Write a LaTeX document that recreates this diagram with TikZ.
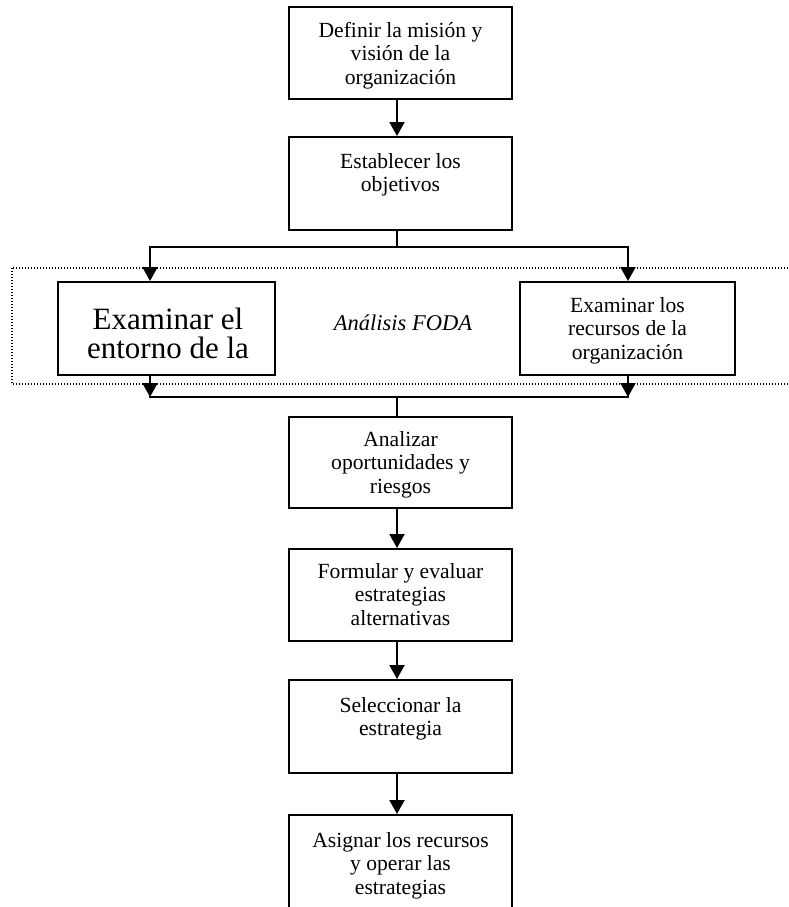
\documentclass[tikz,border=0pt]{standalone}
\usepackage{fontspec}
\setmainfont{Liberation Serif}
\usetikzlibrary{arrows.meta}
\begin{document}
\begin{tikzpicture}[x=1pt,y=-1pt,
  box/.style={draw, line width=2pt, minimum width=223pt, inner sep=0pt},
  txt/.style={anchor=north, align=center, inner sep=0pt, font=\fontsize{21.6}{23.5}\selectfont},
  conn/.style={line width=2pt, line cap=rect},
  arr/.style={line width=2pt, -{Triangle[length=14pt,width=15pt]}},
  dots/.style={line width=1.4pt, dash pattern=on 1.4pt off 1.6pt},
]
\useasboundingbox (0,0) rectangle (788,907);
\clip (0,0) rectangle (788,907);
% dotted SWOT frame
\draw[dots] (12,268) rectangle (800,384);
% boxes
\node[box, minimum height=92pt] (b1) at (400.5,53) {};
\node[box, minimum height=93pt] (b2) at (400.5,183.5) {};
\node[box, minimum width=217pt, minimum height=93pt] (bl) at (166.5,328.5) {};
\node[box, minimum width=215pt, minimum height=93pt] (br) at (627.5,328.5) {};
\node[box, minimum height=91pt] (b3) at (400.5,462.5) {};
\node[box, minimum height=92pt] (b4) at (400.5,595) {};
\node[box, minimum height=93pt] (b5) at (400.5,726.5) {};
\node[box, minimum height=100pt] (b6) at (400.5,865) {};
% texts
\node[txt] (t1) at (400.5,21) {\rule{0pt}{16pt}Definir la misión y\\visión de la\\organización};
\node[txt] (t2) at (400.5,152) {\rule{0pt}{16pt}Establecer los\\objetivos};
\node[txt, font=\fontsize{31}{29}\selectfont] (tl) at (168,307) {\rule{0pt}{22pt}Examinar el\\entorno de la};
\node[txt] (tr) at (627.5,296) {\rule{0pt}{16pt}Examinar los\\recursos de la\\organización};
\node[anchor=base, inner sep=0pt, font=\itshape\fontsize{22.5}{24}\selectfont] (foda) at (403,330) {Análisis FODA};
\node[txt] (t3) at (400.5,430) {\rule{0pt}{16pt}Analizar\\oportunidades y\\riesgos};
\node[txt] (t4) at (400.5,562) {\rule{0pt}{16pt}Formular y evaluar\\estrategias\\alternativas};
\node[txt] (t5) at (400.5,696) {\rule{0pt}{16pt}Seleccionar la\\estrategia};
\node[txt] (t6) at (400.5,831) {\rule{0pt}{16pt}Asignar los recursos\\y operar las\\estrategias};
% connector coordinates
\coordinate (sp) at (397,0);
\coordinate (jt) at (397,247);
\coordinate (jl) at (150,247);
\coordinate (jr) at (628,247);
\coordinate (kt) at (397,397);
\coordinate (kl) at (150,397);
\coordinate (kr) at (628,397);
% connectors
\draw[arr] (b1.south -| sp) -- (b2.north -| sp);
\draw[conn] (b2.south -| sp) -- (jt);
\draw[conn] (jl) -- (jr);
\draw[arr] (jl) -- (bl.north -| jl);
\draw[arr] (jr) -- (br.north -| jr);
\draw[arr] (bl.south -| kl) -- (kl);
\draw[arr] (br.south -| kr) -- (kr);
\draw[conn] (kl) -- (kr);
\draw[conn] (kt) -- (b3.north -| sp);
\draw[arr] (b3.south -| sp) -- (b4.north -| sp);
\draw[arr] (b4.south -| sp) -- (b5.north -| sp);
\draw[arr] (b5.south -| sp) -- (b6.north -| sp);
\end{tikzpicture}
\end{document}
